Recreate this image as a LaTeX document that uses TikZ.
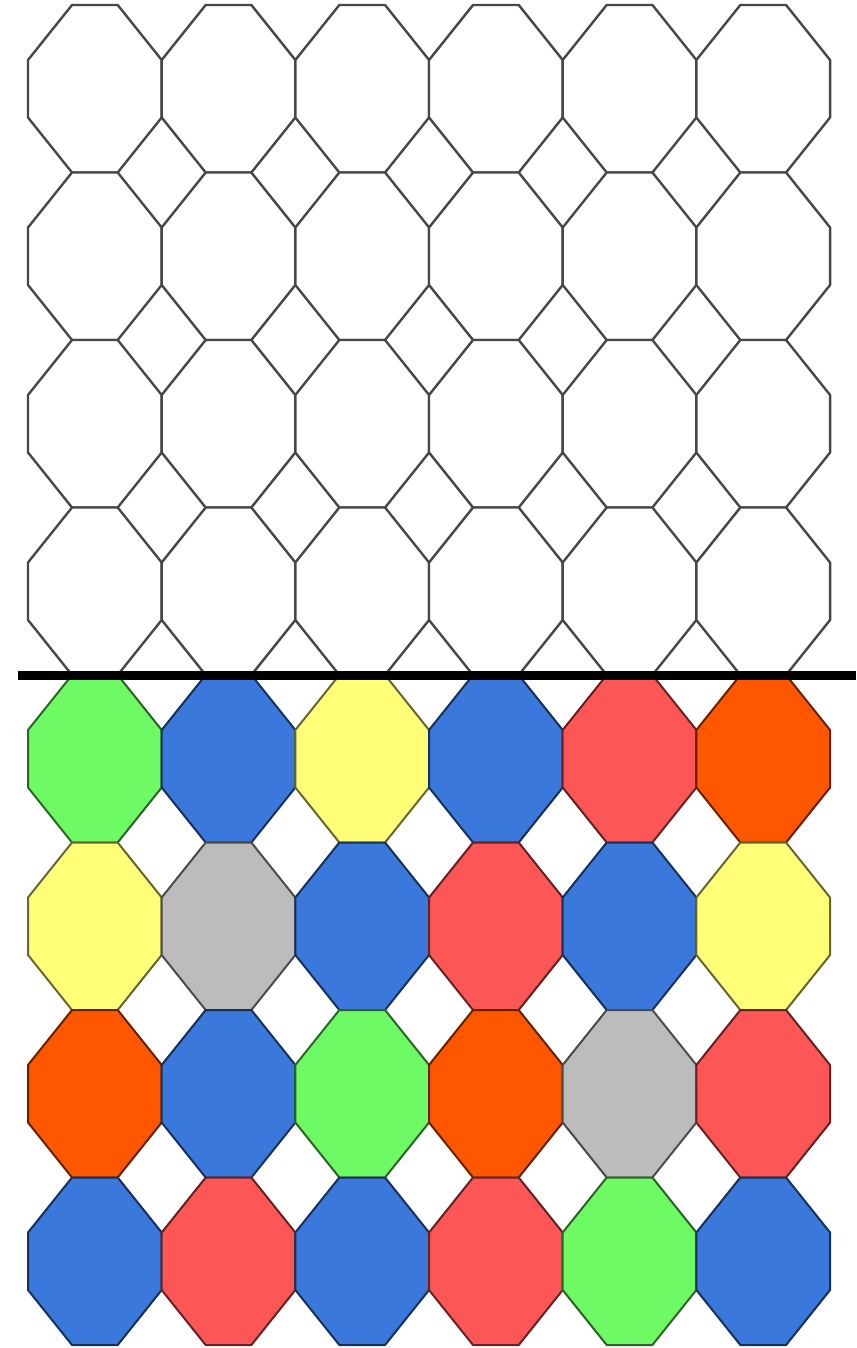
\documentclass[tikz,border=0pt]{standalone}
\usepackage{tikz}
\definecolor{tilegreen}{RGB}{110,250,100}
\definecolor{tileblue}{RGB}{58,120,220}
\definecolor{tileyellow}{RGB}{255,255,120}
\definecolor{tilered}{RGB}{252,86,86}
\definecolor{tileorange}{RGB}{255,86,0}
\definecolor{tilegray}{RGB}{188,188,188}

% octagon by its top left corner (pixel units, y going down)
\newcommand{\octa}[2]{(#1+44,#2) -- (#1+89.7,#2) -- (#1+133.7,#2+55) -- (#1+133.7,#2+112.5)
  -- (#1+89.7,#2+167.5) -- (#1+44,#2+167.5) -- (#1,#2+112.5) -- (#1,#2+55) -- cycle}

\begin{document}
\begin{tikzpicture}[
      x=0.5pt, y=-0.5pt,
      blank/.style={draw=black!72, fill=white, line width=1.2pt, line join=round},
      tile/.style={fill=#1, draw=#1!40!black, line width=1pt, line join=round},
      cut/.style={line width=4.5pt, black}
    ]
    \useasboundingbox[fill=white] (0,0) rectangle (856,1348);

    % empty grid
    \foreach \r in {0,...,3}
      \foreach \c in {0,...,5}
        \draw[blank] \octa{28+133.67*\c}{5+167.5*\r};

    % coloured grid
    \foreach \clr [count=\i from 0] in {tilegreen,tileblue,tileyellow,tileblue,tilered,tileorange,
                                       tileyellow,tilegray,tileblue,tilered,tileblue,tileyellow,
                                       tileorange,tileblue,tilegreen,tileorange,tilegray,tilered,
                                       tileblue,tilered,tileblue,tilered,tilegreen,tileblue} {
      \pgfmathtruncatemacro\c{mod(\i,6)}
      \pgfmathtruncatemacro\r{div(\i,6)}
      \draw[tile=\clr] \octa{28+133.67*\c}{675+167.5*\r};
    }

    \coordinate (cutw) at (18,675);
    \coordinate (cute) at (856,675);
    \draw[cut] (cutw) -- (cute);
  \end{tikzpicture}
\end{document}
